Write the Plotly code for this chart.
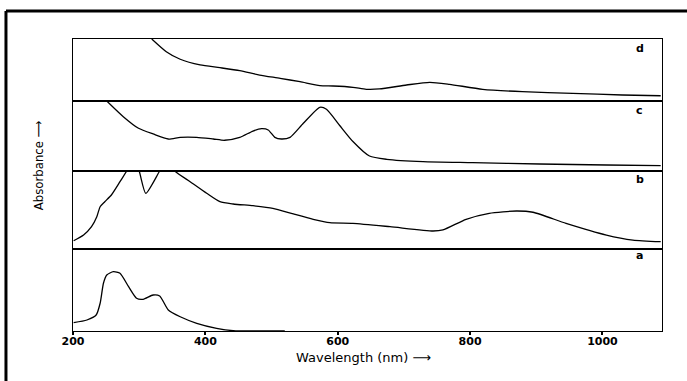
import plotly.graph_objects as go
from plotly.subplots import make_subplots

# ---- data (relative absorbance, each panel scaled 0..1 to its own frame) ----
wl_d = [319, 341, 362, 392, 422, 452, 482, 513, 543, 573, 593, 623, 643, 663, 704, 739, 769, 819, 879, 955, 1030, 1088]
abs_d = [1.0, 0.795, 0.673, 0.581, 0.537, 0.489, 0.419, 0.366, 0.311, 0.247, 0.242, 0.221, 0.189, 0.194, 0.258, 0.302, 0.269, 0.189, 0.150, 0.124, 0.097, 0.085]

wl_c = [251, 276, 299, 321, 344, 362, 387, 412, 429, 452, 472, 485, 495, 505, 515, 528, 548, 573, 583, 603, 623, 648, 674, 729, 804, 905, 1006, 1088]
abs_c = [1.0, 0.776, 0.61, 0.529, 0.457, 0.481, 0.481, 0.457, 0.439, 0.481, 0.571, 0.604, 0.586, 0.481, 0.457, 0.481, 0.681, 0.91, 0.881, 0.65, 0.421, 0.214, 0.167, 0.133, 0.119, 0.1, 0.086, 0.076]

wl_b = [201, 216, 228, 236, 241, 248, 258, 271, 281, 290, 300, 310, 331, 343, 354, 377, 402, 422, 442, 472, 502, 533, 563, 588, 623, 679, 744, 759, 794, 829, 870, 895, 945, 1006, 1046, 1088]
abs_b = [0.106, 0.179, 0.286, 0.414, 0.542, 0.606, 0.692, 0.863, 1.0, 1.2, 1.0, 0.714, 1.0, 1.15, 1.0, 0.863, 0.714, 0.606, 0.577, 0.555, 0.522, 0.449, 0.381, 0.337, 0.329, 0.286, 0.231, 0.244, 0.381, 0.458, 0.487, 0.471, 0.329, 0.179, 0.115, 0.094]

wl_a = [201, 221, 235, 241, 246, 251, 261, 271, 284, 296, 306, 321, 331, 344, 362, 387, 417, 442, 482, 520]
abs_a = [0.101, 0.134, 0.195, 0.338, 0.582, 0.683, 0.723, 0.704, 0.54, 0.399, 0.387, 0.439, 0.427, 0.256, 0.174, 0.094, 0.033, 0.004, 0.0, 0.0]

panel_labels = ["d", "c", "b", "a"]
x_ticks = [200, 400, 600, 800, 1000]
x_title = "Wavelength (nm) \u27f6"
y_title = "Absorbance \u27f6"

series = [(wl_d, abs_d), (wl_c, abs_c), (wl_b, abs_b), (wl_a, abs_a)]

fig = make_subplots(rows=4, cols=1, shared_xaxes=True, vertical_spacing=0,
                    row_heights=[62, 70, 78, 82])

for i, (xs, ys) in enumerate(series):
    fig.add_trace(go.Scatter(x=xs, y=ys, mode="lines",
                             line=dict(color="black", width=1.3, shape="spline", smoothing=0.6),
                             showlegend=False, hoverinfo="skip"), row=i + 1, col=1)

for i in range(4):
    last = (i == 3)
    fig.update_xaxes(range=[200, 1090], showline=True, mirror=True, linecolor="black", linewidth=1,
                     showgrid=False, zeroline=False,
                     ticks="outside" if last else "", ticklen=3, tickwidth=1.5, tickcolor="black",
                     tickvals=x_ticks, showticklabels=last, ticklabelstandoff=-3,
                     tickfont=dict(family="DejaVu Sans", size=11, color="black", weight="bold"),
                     row=i + 1, col=1)
    fig.update_yaxes(range=[0, 1], showline=True, mirror=True, linecolor="black", linewidth=1,
                     showgrid=False, zeroline=False, ticks="", showticklabels=False,
                     row=i + 1, col=1)

label_y = [0.839, 0.871, 0.897, 0.915]
for i, lab in enumerate(panel_labels):
    sfx = "" if i == 0 else str(i + 1)
    fig.add_annotation(text=lab, xref=f"x{sfx} domain", yref=f"y{sfx} domain",
                       x=0.962, y=label_y[i], showarrow=False, xanchor="center", yanchor="middle",
                       font=dict(family="DejaVu Sans", size=11, color="black", weight="bold"))

fig.add_annotation(text=y_title, xref="paper", yref="paper", x=-0.0594, y=0.568,
                   textangle=-90, showarrow=False, xanchor="center", yanchor="middle",
                   font=dict(family="DejaVu Sans Condensed, Liberation Sans Narrow, DejaVu Sans", size=13, color="black"))
fig.add_annotation(text=x_title, xref="paper", yref="paper", x=0.494, y=-0.092,
                   showarrow=False, xanchor="center", yanchor="middle",
                   font=dict(family="DejaVu Sans", size=13, color="black"))

# page frame (left and top edges)
fig.add_shape(type="line", xref="paper", yref="paper", x0=-0.1138, x1=-0.1138, y0=-0.2, y1=1.096,
              line=dict(color="black", width=3))
fig.add_shape(type="line", xref="paper", yref="paper", x0=-0.1138, x1=1.05, y0=1.096, y1=1.096,
              line=dict(color="black", width=3))

fig.update_layout(width=687, height=381, margin=dict(l=73, r=25, t=39, b=50),
                  plot_bgcolor="white", paper_bgcolor="white")

fig.write_html("out.html", config={"displayModeBar": False},
               post_script="document.body.style.margin='0px';document.body.style.overflow='hidden';")
